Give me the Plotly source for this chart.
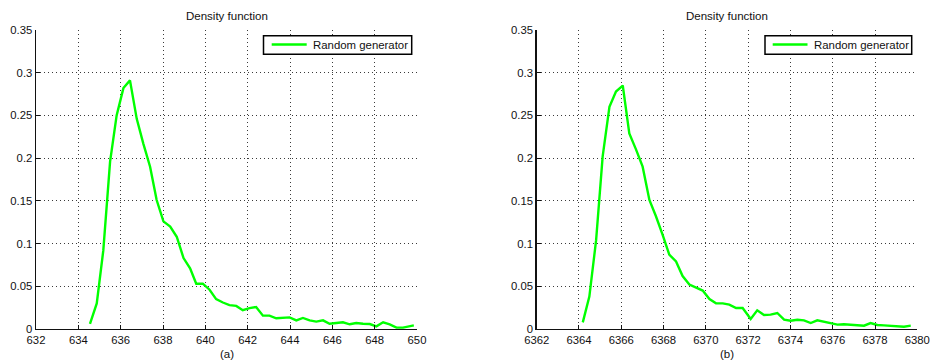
import plotly.graph_objects as go

# ---- data (a) ----
x_a = [634.55, 634.87, 635.18, 635.50, 635.81, 636.13, 636.44, 636.76, 637.07, 637.39,
       637.70, 638.02, 638.34, 638.65, 638.97, 639.28, 639.57, 639.88, 640.20, 640.51,
       640.83, 641.14, 641.46, 641.77, 642.09, 642.40, 642.72, 643.03, 643.35, 643.67,
       643.98, 644.30, 644.61, 644.93, 645.24, 645.56, 645.87, 646.19, 646.50, 646.82,
       647.13, 647.45, 647.77, 648.08, 648.40, 648.71, 649.03, 649.34, 649.66, 649.85]
y_a = [0.006, 0.030, 0.092, 0.196, 0.250, 0.282, 0.291, 0.246, 0.217, 0.190,
       0.151, 0.126, 0.120, 0.108, 0.083, 0.071, 0.053, 0.053, 0.046, 0.035,
       0.031, 0.028, 0.027, 0.022, 0.0245, 0.0257, 0.0156, 0.0156, 0.0125, 0.0129,
       0.0136, 0.0101, 0.0129, 0.0101, 0.0086, 0.0101, 0.0062, 0.0070, 0.0078, 0.0055,
       0.0070, 0.0062, 0.0058, 0.0031, 0.0078, 0.0055, 0.0016, 0.0016, 0.0035, 0.0043]

# ---- data (b) ----
x_b = [6364.18, 6364.49, 6364.81, 6365.12, 6365.44, 6365.75, 6366.07, 6366.38, 6366.70, 6367.01,
       6367.33, 6367.64, 6367.96, 6368.27, 6368.59, 6368.90, 6369.22, 6369.53, 6369.85, 6370.17,
       6370.48, 6370.80, 6371.11, 6371.43, 6371.74, 6372.12, 6372.43, 6372.75, 6373.06, 6373.38,
       6373.70, 6374.01, 6374.33, 6374.64, 6374.96, 6375.27, 6375.59, 6375.90, 6376.22, 6376.53,
       6376.85, 6377.16, 6377.48, 6377.79, 6378.11, 6378.42, 6378.74, 6379.06, 6379.37, 6379.69]
y_b = [0.0078, 0.038, 0.104, 0.202, 0.260, 0.278, 0.285, 0.229, 0.210, 0.190,
       0.151, 0.132, 0.110, 0.087, 0.079, 0.062, 0.052, 0.049, 0.045, 0.035,
       0.030, 0.030, 0.0285, 0.0246, 0.0246, 0.0117, 0.0218, 0.0164, 0.0168, 0.0187,
       0.0109, 0.0097, 0.0109, 0.0101, 0.0070, 0.0101, 0.0082, 0.0070, 0.0051, 0.0055,
       0.0051, 0.0051, 0.0039, 0.0070, 0.0047, 0.0043, 0.0039, 0.0027, 0.0027, 0.0039]

series_name = "Random generator"
title_text = "Density function"
xlabels = ["(a)", "(b)"]
x_tick_a = [632, 634, 636, 638, 640, 642, 644, 646, 648, 650]
x_tick_b = [6362, 6364, 6366, 6368, 6370, 6372, 6374, 6376, 6378, 6380]
y_ticks = [0, 0.05, 0.1, 0.15, 0.2, 0.25, 0.3, 0.35]
y_tick_text = ["0", "0.05", "0.1", "0.15", "0.2", "0.25", "0.3", "0.35"]

W, H = 931, 361
FONT = "Arial, Liberation Sans, Helvetica, sans-serif"
GREEN = "#00FF00"
TXT = "#111111"


def px(xw):
    return xw / W


def py(yw):
    return (H - yw) / H


fig = go.Figure()
fig.add_trace(go.Scatter(x=x_a, y=y_a, mode="lines", name=series_name,
                         line=dict(color=GREEN, width=2.4), xaxis="x", yaxis="y",
                         showlegend=False))
fig.add_trace(go.Scatter(x=x_b, y=y_b, mode="lines", name=series_name,
                         line=dict(color=GREEN, width=2.4), xaxis="x2", yaxis="y2",
                         showlegend=False))

y_dom = [py(329), py(30)]
dom_a = [px(36), px(417)]
dom_b = [px(536.7), px(917.3)]

common = dict(showgrid=True, gridcolor="#3a3a3a", griddash="1px,3px", gridwidth=1,
              showline=True, linecolor="#111111", linewidth=1.4, mirror=False,
              ticks="inside", ticklen=4, tickcolor="#111111", zeroline=False,
              automargin=False,
              tickfont=dict(family=FONT, size=11.3, color=TXT))

fig.update_layout(
    template="none",
    width=W, height=H,
    margin=dict(l=0, r=0, t=0, b=0, autoexpand=False),
    paper_bgcolor="white", plot_bgcolor="white",
    font=dict(family=FONT, size=11.3, color=TXT),
    showlegend=False,
    xaxis=dict(domain=dom_a, range=[632, 650], tickvals=x_tick_a, anchor="y", **common),
    yaxis=dict(domain=y_dom, anchor="x", range=[0, 0.35], tickvals=y_ticks,
               ticktext=y_tick_text, **common),
    xaxis2=dict(domain=dom_b, range=[6362, 6380], tickvals=x_tick_b, anchor="y2", **common),
    yaxis2=dict(domain=y_dom, anchor="x2", range=[0, 0.35], tickvals=y_ticks,
                ticktext=y_tick_text, **common),
)

annotations = []
shapes = []
panels = [
    (dom_a, xlabels[0], (263.5, 411.7, 35.7, 54.3), (271.7, 306.7), 310.5),
    (dom_b, xlabels[1], (765, 911.7, 35.7, 54.3), (772.7, 807.5), 811.5),
]
for dom, lab, box, ln, tx in panels:
    cx = (dom[0] + dom[1]) / 2
    annotations.append(dict(text=title_text, x=cx, y=py(16), xref="paper", yref="paper",
                            showarrow=False, xanchor="center", yanchor="middle",
                            font=dict(family=FONT, size=11.5, color=TXT)))
    annotations.append(dict(text=lab, x=cx, y=py(354), xref="paper", yref="paper",
                            showarrow=False, xanchor="center", yanchor="middle",
                            font=dict(family=FONT, size=11.5, color=TXT)))
    # legend box
    shapes.append(dict(type="rect", xref="paper", yref="paper",
                       x0=px(box[0]), x1=px(box[1]), y0=py(box[3]), y1=py(box[2]),
                       line=dict(color="#000000", width=1.5), fillcolor="white",
                       layer="above"))
    ymid = 44.5
    shapes.append(dict(type="line", xref="paper", yref="paper",
                       x0=px(ln[0]), x1=px(ln[1]), y0=py(ymid), y1=py(ymid),
                       line=dict(color=GREEN, width=2.4), layer="above"))
    annotations.append(dict(text=series_name, x=px(tx), y=py(ymid), xref="paper",
                            yref="paper", showarrow=False, xanchor="left",
                            yanchor="middle",
                            font=dict(family=FONT, size=11.4, color=TXT)))

fig.update_layout(annotations=annotations, shapes=shapes)

# remove the browser's default page margin so the figure fills the window exactly
fig.write_html("out.html",
               config={"displayModeBar": False, "staticPlot": True},
               post_script="document.body.style.margin='0';"
                           "document.body.style.overflow='hidden';")
